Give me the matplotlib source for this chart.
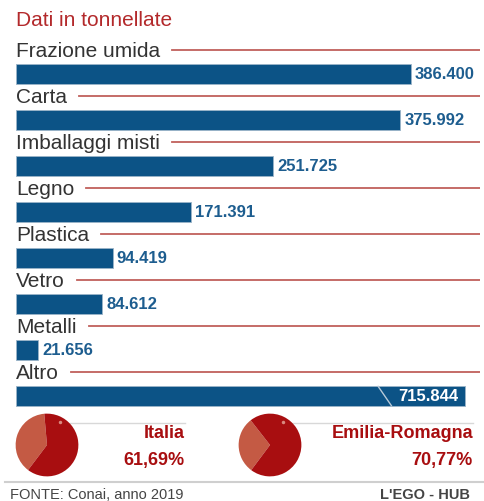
import matplotlib.pyplot as plt

categorie = ["Frazione umida", "Carta", "Imballaggi misti", "Legno",
             "Plastica", "Vetro", "Metalli", "Altro"]
tonnellate = [386400, 375992, 251725, 171391, 94419, 84612, 21656, 715844]
etichette = ["386.400", "375.992", "251.725", "171.391",
             "94.419", "84.612", "21.656", "715.844"]

regioni = ["Italia", "Emilia-Romagna"]
percentuali = [61.69, 70.77]
percentuali_txt = ["61,69%", "70,77%"]

BLU = "#0c5386"
ROSSO = "#a80e10"
ROSSO_CHIARO = "#c45a44"
LINEA = "#c0605c"
FONT = ["Liberation Sans Narrow", "Liberation Sans", "DejaVu Sans"]

W, H = 484, 502
fig = plt.figure(figsize=(W / 100, H / 100), dpi=100)


def px(x0, y0, x1, y1):
    return [x0 / W, 1 - y1 / H, (x1 - x0) / W, (y1 - y0) / H]


# bar panel
ax = fig.add_axes(px(16, 29, 480, 420))
scala = 395 / 386400  # px per tonnellata
xmax = (480 - 16) / scala
cap = (465 - 16) / scala  # la barra "Altro" e' spezzata
ax.set_xlim(0, xmax)
ax.set_ylim(7.5, -1)
ax.axis("off")

valori = [min(v, cap) for v in tonnellate]
ax.barh(range(len(categorie)), valori, height=0.42, color=BLU,
        edgecolor="#9bb4c8", linewidth=0.6)

for i, (cat, v, lab) in enumerate(zip(categorie, tonnellate, etichette)):
    t = ax.text(0, i - 0.52, cat, fontsize=15, family=FONT, color="#333333",
                va="center", ha="left")
    if v > cap:
        ax.text(cap - 6000, i, lab, fontsize=12, family=FONT, color="white",
                fontweight="bold", va="center", ha="right")
        ax.plot([cap - 85000, cap - 72000], [i - 0.21, i + 0.21],
                color="#b7c9d8", lw=1)
    else:
        ax.text(v + 4000, i, lab, fontsize=12, family=FONT, color="#1d5d8f",
                fontweight="bold", va="center", ha="left")

# red lines after the labels
fig.canvas.draw()
r = fig.canvas.get_renderer()
inv = ax.transData.inverted()
for t in ax.texts:
    if t.get_color() == "#333333":
        bb = t.get_window_extent(r)
        x0 = inv.transform((bb.x1 + 12, 0))[0]
        y = t.get_position()[1]
        ax.plot([x0, xmax], [y, y], color=LINEA, lw=1.3)

fig.text(16 / W, 1 - 20 / H, "Dati in tonnellate", fontsize=15, family=FONT,
         color="#b3292b", va="center", ha="left")

# pies
centri = [(47, 446, 32), (270, 446, 32)]
starts = [95, 128]
testo_x = [185, 473]
linea_x = [(70, 185), (293, 473)]
for (cx, cy, rr), p, s, reg, ptxt, tx, lx in zip(centri, percentuali, starts,
                                               regioni, percentuali_txt,
                                               testo_x, linea_x):
    fig.add_artist(plt.Line2D([lx[0] / W, lx[1] / W], [1 - 424 / H] * 2,
                              color="#d8d8d8", lw=1, zorder=-1))
    pa = fig.add_axes(px(cx - rr, cy - rr, cx + rr, cy + rr))
    pa.pie([100 - p, p], colors=[ROSSO_CHIARO, ROSSO], startangle=s,
           counterclock=True, radius=1)
    pa.set_xlim(-1.02, 1.02)
    pa.set_ylim(-1.02, 1.02)
    pa.set_aspect("equal")
    pa.plot([0.41], [0.72], "o", ms=2.5, color="#d98a80", mec="none")
    fig.text(tx / W, 1 - 434 / H, reg, fontsize=13, family=FONT,
             color=ROSSO, fontweight="bold", ha="right", va="center")
    fig.text(tx / W, 1 - 461 / H, ptxt, fontsize=13, family=FONT,
             color=ROSSO, fontweight="bold", ha="right", va="center")

fig.add_artist(plt.Line2D([5 / W, 1], [1 - 483 / H] * 2, color="#cfcfcf", lw=1.5))
fig.text(10 / W, 1 - 495 / H, "FONTE: Conai, anno 2019", fontsize=10.5,
         family=FONT, color="#444444", ha="left", va="center")
fig.text(470 / W, 1 - 495 / H, "L'EGO - HUB", fontsize=10.5, family=FONT,
         color="#444444", fontweight="bold", ha="right", va="center")

fig.savefig("out.png", dpi=100)
